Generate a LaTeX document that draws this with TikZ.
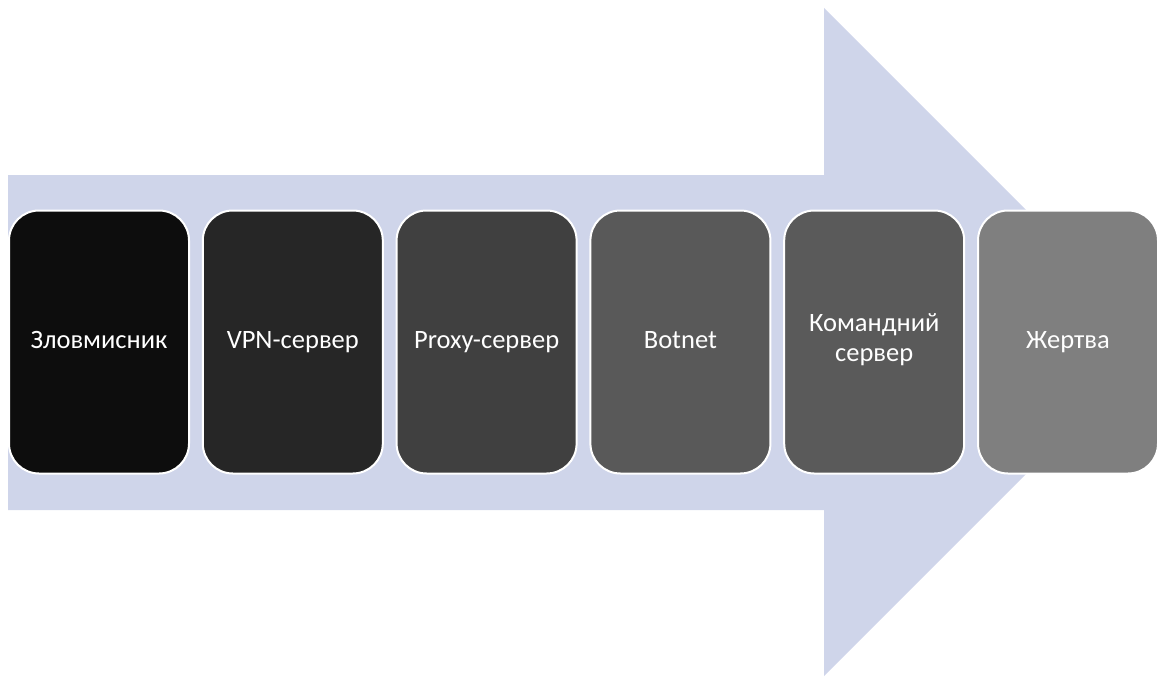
\documentclass[tikz,border=0pt]{standalone}
\usepackage{fontspec}
\setmainfont{Carlito}
\usepackage{tikz}
\usetikzlibrary{positioning}
\definecolor{flow}{HTML}{CFD5EA}
\definecolor{stepA}{HTML}{0D0D0D}
\definecolor{stepB}{HTML}{262626}
\definecolor{stepC}{HTML}{404040}
\definecolor{stepD}{HTML}{595959}
\definecolor{stepE}{HTML}{5A5A5A}
\definecolor{stepF}{HTML}{7F7F7F}
\tikzset{
  arrowbg/.style={fill=flow, draw=none},
  stage/.style={draw=white, line width=2pt, rounded corners=30pt,
    minimum width=180pt, minimum height=263pt, inner sep=0pt,
    text=white, align=center, font=\fontsize{26.5}{30}\selectfont,
    execute at begin node=\strut}
}
\begin{document}
\begin{tikzpicture}[x=1pt,y=-1pt]
\useasboundingbox (0,0) rectangle (1160,677);
% big arrow behind the stages
\coordinate (tail) at (8,175);
\coordinate (tip) at (1158,342);
\fill[arrowbg] (tail) -- (824,175) -- (824,8) -- (tip) -- (824,676)
  -- (824,510) -- (8,510) -- cycle;
% stages
\node[stage, fill=stepA] (attacker) at (99,342) {Зловмисник};
\node[stage, fill=stepB, right=11.8pt of attacker] (vpn) {VPN-сервер};
\node[stage, fill=stepC, right=11.8pt of vpn] (proxy) {Proxy-сервер};
\node[stage, fill=stepD, right=11.8pt of proxy] (botnet) {Botnet};
\node[stage, fill=stepE, right=11.8pt of botnet] (cnc) {Командний\\сервер};
\node[stage, fill=stepF, right=11.8pt of cnc] (victim) {Жертва};
\end{tikzpicture}
\end{document}
